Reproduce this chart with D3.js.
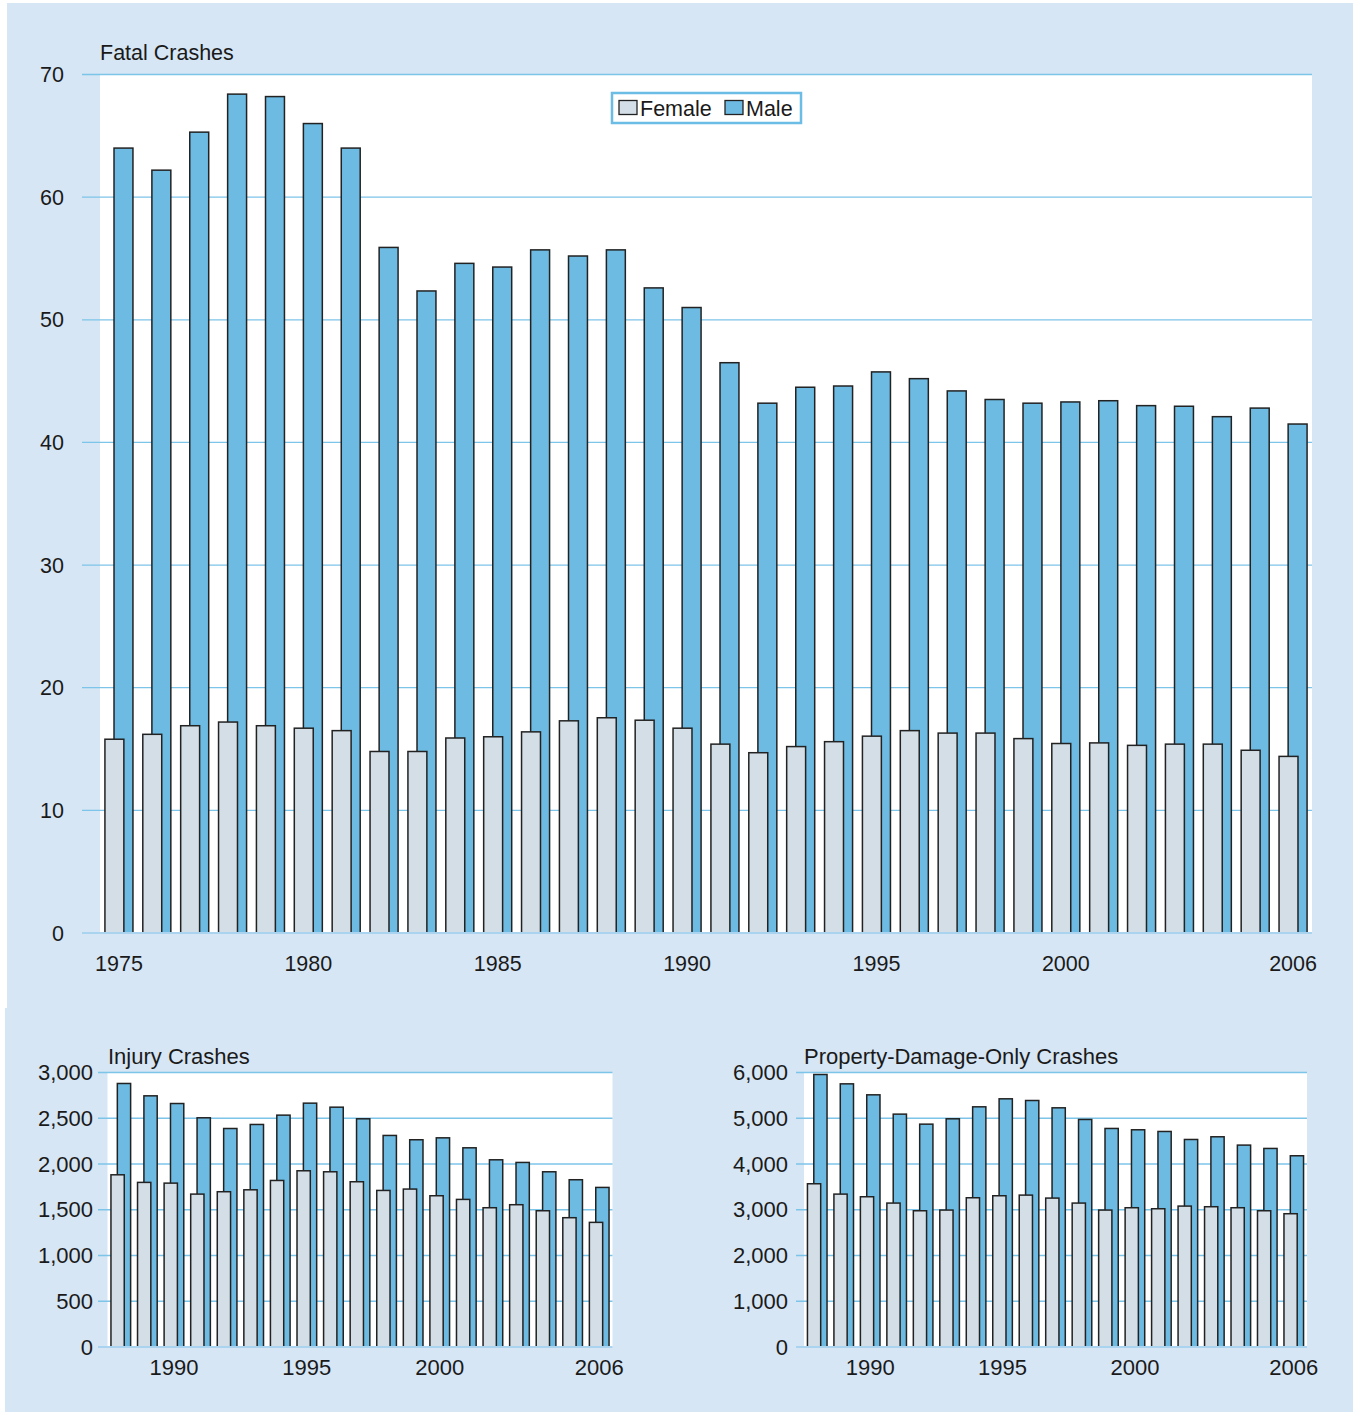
<!DOCTYPE html>
<html>
<head>
<meta charset="utf-8">
<script src="https://cdn.jsdelivr.net/npm/d3@7"></script>
<style>
  html, body { margin: 0; padding: 0; background: #ffffff; }
  svg { display: block; }
  text { font-family: "Liberation Sans", Arial, sans-serif; fill: #1a1a1a; }
</style>
</head>
<body>
<svg id="chart" width="1353" height="1412"></svg>
<script>
// ---------- DATA ----------
const fatalYears = d3.range(1975, 2007);
const fatalFemale = [15.8, 16.2, 16.9, 17.2, 16.9, 16.7, 16.5, 14.8, 14.8, 15.9, 16.0, 16.4, 17.3, 17.55, 17.35, 16.7,
                     15.4, 14.7, 15.2, 15.6, 16.05, 16.5, 16.3, 16.3, 15.85, 15.45, 15.5, 15.3, 15.4, 15.4, 14.9, 14.4];
const fatalMale = [64.0, 62.2, 65.3, 68.4, 68.2, 66.0, 64.0, 55.9, 52.35, 54.6, 54.3, 55.7, 55.2, 55.7, 52.6, 51.0,
                   46.5, 43.2, 44.5, 44.6, 45.75, 45.2, 44.2, 43.5, 43.2, 43.3, 43.4, 43.0, 42.95, 42.1, 42.8, 41.5];
const fatalTicks = [0, 10, 20, 30, 40, 50, 60, 70];
const fatalYearLabels = [1975, 1980, 1985, 1990, 1995, 2000, 2006];

const subYears = d3.range(1988, 2007);
const injuryFemale = [1882, 1799, 1791, 1671, 1697, 1718, 1820, 1926, 1915, 1806, 1711, 1726, 1653, 1613, 1522, 1555, 1489, 1413, 1362];
const injuryMale = [2880, 2745, 2661, 2505, 2388, 2432, 2534, 2665, 2621, 2494, 2312, 2265, 2286, 2177, 2046, 2017, 1915, 1828, 1744];
const injuryTicks = [0, 500, 1000, 1500, 2000, 2500, 3000];

const pdoFemale = [3568, 3342, 3284, 3146, 2978, 2993, 3262, 3306, 3320, 3255, 3146, 2993, 3044, 3022, 3080, 3066, 3044, 2978, 2913];
const pdoMale = [5956, 5752, 5512, 5090, 4871, 4988, 5250, 5425, 5388, 5228, 4973, 4777, 4748, 4711, 4536, 4595, 4413, 4340, 4180];
const pdoTicks = [0, 1000, 2000, 3000, 4000, 5000, 6000];
const subYearLabels = [1990, 1995, 2000, 2006];

const seriesNames = ["Female", "Male"];

// ---------- STYLE ----------
const BG = "#d6e6f4";
const MALE = "#6dbbe2";
const FEMALE = "#d3dee6";
const GRID = "#7cc4e8";
const STROKE = "#222222";

const svg = d3.select("#chart");

// backgrounds
svg.append("rect").attr("x", 7).attr("y", 3).attr("width", 1346).attr("height", 1005).attr("fill", BG);
svg.append("rect").attr("x", 5).attr("y", 1008).attr("width", 1348).attr("height", 404).attr("fill", BG);

function drawPanel(opts) {
  const { years, female, male, ticks, yMax, labels, left, right, top, bottom, gridLeft,
          title, titleX, titleY, fmt, labelRight, xLabelY, fs } = opts;
  const g = svg.append("g");
  const x = d3.scaleBand().domain(years).range([left, right]).padding(0);
  const y = d3.scaleLinear().domain([0, yMax]).range([bottom, top]);
  const bw = x.bandwidth();

  // plot area
  g.append("rect").attr("x", left).attr("y", top).attr("width", right - left).attr("height", bottom - top)
    .attr("fill", "#ffffff");

  // grid lines (except baseline)
  g.selectAll("line.grid").data(ticks.filter(t => t > 0)).join("line")
    .attr("x1", gridLeft).attr("x2", right)
    .attr("y1", d => y(d)).attr("y2", d => y(d))
    .attr("stroke", GRID).attr("stroke-width", 1.3);

  // y labels
  g.selectAll("text.ylab").data(ticks).join("text")
    .attr("x", labelRight).attr("y", d => y(d)).attr("dy", "0.35em")
    .attr("text-anchor", "end").attr("font-size", fs)
    .text(d => fmt(d));

  // male bars (behind)
  g.selectAll("rect.male").data(years).join("rect")
    .attr("x", d => x(d) + bw * 0.37).attr("width", bw * 0.5)
    .attr("y", (d, i) => y(male[i])).attr("height", (d, i) => bottom - y(male[i]))
    .attr("fill", MALE).attr("stroke", STROKE).attr("stroke-width", 1.5);

  // female bars (front)
  g.selectAll("rect.female").data(years).join("rect")
    .attr("x", d => x(d) + bw * 0.13).attr("width", bw * 0.5)
    .attr("y", (d, i) => y(female[i])).attr("height", (d, i) => bottom - y(female[i]))
    .attr("fill", FEMALE).attr("stroke", STROKE).attr("stroke-width", 1.5);

  // baseline
  g.append("line").attr("x1", gridLeft).attr("x2", right)
    .attr("y1", bottom).attr("y2", bottom)
    .attr("stroke", "#a9d3ee").attr("stroke-width", 2);

  // x labels
  g.selectAll("text.xlab").data(labels).join("text")
    .attr("x", d => x(d) + bw / 2).attr("y", xLabelY)
    .attr("text-anchor", "middle").attr("font-size", fs)
    .text(d => d);

  // title
  g.append("text").attr("x", titleX).attr("y", titleY).attr("font-size", fs).text(title);
  return { x, y };
}

// Fatal crashes
drawPanel({
  years: fatalYears, female: fatalFemale, male: fatalMale, ticks: fatalTicks, yMax: 70,
  labels: fatalYearLabels, left: 100, right: 1312, top: 74.5, bottom: 933, gridLeft: 82,
  title: "Fatal Crashes", titleX: 100, titleY: 60, fmt: d3.format("d"), labelRight: 64, xLabelY: 971, fs: 21.5
});

// Injury crashes
drawPanel({
  years: subYears, female: injuryFemale, male: injuryMale, ticks: injuryTicks, yMax: 3000,
  labels: subYearLabels, left: 107.5, right: 612.5, top: 1072.5, bottom: 1347, gridLeft: 98,
  title: "Injury Crashes", titleX: 108, titleY: 1064, fmt: d3.format(",d"), labelRight: 93, xLabelY: 1375, fs: 22
});

// Property-damage-only crashes
drawPanel({
  years: subYears, female: pdoFemale, male: pdoMale, ticks: pdoTicks, yMax: 6000,
  labels: subYearLabels, left: 804, right: 1307, top: 1072.5, bottom: 1347, gridLeft: 796,
  title: "Property-Damage-Only Crashes", titleX: 804, titleY: 1064, fmt: d3.format(",d"), labelRight: 788, xLabelY: 1375, fs: 22
});

// Legend
const lg = svg.append("g");
lg.append("rect").attr("x", 612).attr("y", 93).attr("width", 189).attr("height", 30)
  .attr("fill", "#ffffff").attr("stroke", "#6cbde6").attr("stroke-width", 2.5);
const legendItems = [{ name: seriesNames[0], color: FEMALE, x: 619 }, { name: seriesNames[1], color: MALE, x: 725 }];
legendItems.forEach(it => {
  lg.append("rect").attr("x", it.x).attr("y", 100.5).attr("width", 18).attr("height", 14)
    .attr("fill", it.color).attr("stroke", STROKE).attr("stroke-width", 1.3);
  lg.append("text").attr("x", it.x + 21).attr("y", 115.5).attr("font-size", 21.5).text(it.name);
});
</script>
</body>
</html>
